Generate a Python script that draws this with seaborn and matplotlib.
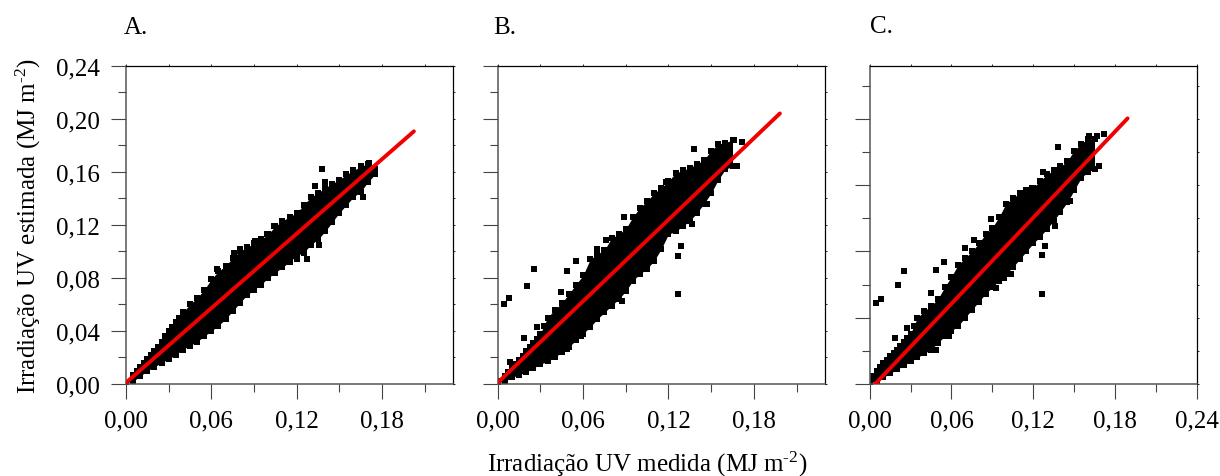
import numpy as np
import pandas as pd
import matplotlib
matplotlib.use('Agg')
import matplotlib.pyplot as plt
import seaborn as sns

sns.set_style('ticks')
plt.rcParams['font.family'] = ['Liberation Serif', 'DejaVu Serif']
plt.rcParams['mathtext.fontset'] = 'custom'
plt.rcParams['mathtext.rm'] = 'Liberation Serif'
plt.rcParams['mathtext.default'] = 'regular'
plt.rcParams['text.color'] = 'black'

W, H = 1220, 477

# measured value at which the black cloud was read (every panel starts at 0)
x_a = [0, .005, .01, .015, .02, .025, .03, .035, .04, .045, .05, .055, .06, .065, .07, .075, .08, .085,
       .09, .095, .1, .105, .11, .115, .12, .125, .13, .135, .14, .145, .15, .155, .16, .165, .17, .175]
x_bc = x_a[:34]

# panel A, top and bottom of the cloud
up_a = [.001, .007, .013, .019, .025, .032, .040, .047, .054, .060, .065, .071, .079, .085, .089, .095, .100, .103,
        .106, .109, .113, .119, .123, .126, .129, .135, .141, .144, .148, .151, .154, .158, .161, .164, .166, .162]
lo_a = [.001, .002, .006, .010, .013, .016, .019, .022, .026, .029, .032, .036, .040, .044, .049, .055, .061, .067,
        .071, .075, .080, .084, .088, .092, .097, .099, .105, .109, .115, .122, .129, .135, .141, .145, .152, .158]
out_x_a = [.138, .133, .140, .104, .080, .076, .064, .171, .136, .127, .120, .167, .091, .099,
           .0075, .0125, .0175, .0225, .0275, .0325, .0375]
out_y_a = [.162, .1495, .152, .119, .102, .099, .087, .167, .105, .094, .094, .141, .108, .113,
           .010, .016, .022, .028, .036, .043, .050]
line_x_a = [0, .2025]
line_y_a = [.001, .1905]

# panel B
up_b = [.002, .006, .012, .018, .025, .031, .038, .050, .056, .061, .068, .075, .082, .094, .098, .101, .110, .113,
        .117, .126, .133, .138, .144, .148, .153, .159, .161, .163, .166, .169, .176, .181, .182, .184]
lo_b = [.001, .002, .005, .007, .009, .012, .015, .017, .020, .024, .028, .033, .038, .043, .049, .054, .059, .064,
        .070, .078, .083, .087, .093, .102, .113, .115, .119, .123, .129, .136, .144, .154, .162, .164]
out_x_b = [.0047, .0082, .0209, .0256, .0448, .0488, .0547, .070, .0763, .0875, .089, .138, .1267, .1267,
           .1286, .1363, .147, .0185, .0275, .0486, .0587, .172, .166, .1185, .0087, .168,
           .0075, .0125, .0175, .0225, .0275, .0325]
out_y_b = [.0606, .0648, .0739, .0865, .0691, .085, .0927, .102, .1088, .0628, .1257, .177, .0679, .0963,
           .1038, .1204, .136, .0347, .0427, .0264, .0362, .1827, .184, .152, .0163, .164,
           .009, .015, .021, .028, .034, .044]
line_x_b = [0, .1983]
line_y_b = [.001, .204]

# panel C
up_c = [.002, .010, .016, .021, .026, .032, .038, .050, .055, .059, .064, .073, .081, .090, .095, .100, .106, .113,
        .118, .126, .136, .140, .144, .146, .148, .153, .158, .161, .164, .168, .176, .181, .185, .185]
lo_c = [.001, .002, .005, .008, .011, .014, .017, .020, .023, .026, .031, .036, .040, .044, .050, .056, .062, .068,
        .073, .078, .083, .088, .094, .100, .106, .111, .117, .123, .130, .137, .146, .155, .160, .162]
out_x_c = [.0047, .0081, .021, .0252, .0448, .0487, .0546, .0698, .0764, .089, .138, .1266, .1266, .1286, .136,
           .1467, .1717, .1607, .0186, .0277, .0487, .0585, .104, .0987, .0926, .127, .119, .168, .1668,
           .0025, .0075, .0125, .0175, .0225, .0275, .0325]
out_y_c = [.0611, .0638, .0744, .0852, .0689, .086, .0922, .1025, .1086, .1244, .1787, .0681, .0973, .1038, .1194,
           .1377, .1885, .1867, .0349, .0422, .0259, .0362, .083, .0797, .0721, .160, .1475, .1646, .1867,
           .006, .013, .018, .023, .029, .035, .044]
line_x_c = [.004, .1893]
line_y_c = [0, .2003]

y_ticks_ab = [0, .04, .08, .12, .16, .20, .24]
y_minor_ab = [.02, .06, .10, .14, .18, .22]
y_labels = ['0,00', '0,04', '0,08', '0,12', '0,16', '0,20', '0,24']
y_ticks_c = [0, .05, .10, .15, .20]
y_minor_c = [.025, .075, .125, .175, .225]
x_ticks = [0, .06, .12, .18]
x_minor = [.03, .09, .15, .21]
x_labels = ['0,00', '0,06', '0,12', '0,18']
x_ticks_c = [0, .06, .12, .18, .24]
x_labels_c = ['0,00', '0,06', '0,12', '0,18', '0,24']


def panel(rect, xs, up, lo, out_x, out_y, line_x, line_y, xlim, yt, ym, xt, xl, ylab=None):
    left, top, right, bottom = rect
    ax = fig.add_axes([left / W, 1 - bottom / H, (right - left) / W, (bottom - top) / H])

    # solid body of the cloud, then its square points on the edges and the strays
    ax.fill_between(xs, lo, up, color='black', linewidth=0)
    pts = pd.DataFrame({'x': list(xs) * 2 + out_x, 'y': up + lo + out_y})
    sns.scatterplot(data=pts, x='x', y='y', ax=ax, marker='s', s=15, color='black', linewidth=0)
    line = pd.DataFrame({'x': line_x, 'y': line_y})
    sns.lineplot(data=line, x='x', y='y', ax=ax, color='#f00000', linewidth=2.8,
                 solid_capstyle='round', errorbar=None, zorder=5)

    ax.set_xlim(*xlim)
    ax.set_ylim(0, .24)
    ax.set_xlabel('')
    ax.set_ylabel('')
    ax.set_xticks(xt)
    ax.set_xticklabels(xl)
    ax.set_xticks(x_minor, minor=True)
    ax.set_yticks(yt)
    ax.set_yticklabels(ylab if ylab else [''] * len(yt))
    ax.set_yticks(ym, minor=True)
    ax.tick_params(which='major', length=11, width=.8, color='#444444', labelsize=18, labelcolor='black')
    ax.tick_params(which='minor', length=6, width=.8, color='#444444')
    ax.tick_params(axis='x', which='major', pad=7.5)
    ax.tick_params(axis='y', which='major', pad=8)
    for side in ['left', 'bottom']:
        ax.spines[side].set_color('#555555')
        ax.spines[side].set_linewidth(1.1)
    for side in ['top', 'right']:
        ax.spines[side].set_visible(True)
        ax.spines[side].set_color('black')
        ax.spines[side].set_linewidth(.9)

    # very short ticks on the closing sides
    sx = ax.secondary_xaxis('top')
    sx.set_xticks(xt + x_minor)
    sx.tick_params(length=1.5, width=.7, labeltop=False)
    sx.spines['top'].set_visible(False)
    sy = ax.secondary_yaxis('right')
    sy.set_yticks(yt + ym)
    sy.tick_params(length=1.5, width=.7, labelright=False)
    sy.spines['right'].set_visible(False)
    return ax


fig = plt.figure(figsize=(W / 100, H / 100), dpi=100)

panel((126, 66.7, 453, 385), x_a, up_a, lo_a, out_x_a, out_y_a, line_x_a, line_y_a, (0, .23),
      y_ticks_ab, y_minor_ab, x_ticks, x_labels, ylab=y_labels)
panel((497.7, 66.7, 825, 385), x_bc, up_b, lo_b, out_x_b, out_y_b, line_x_b, line_y_b, (0, .23),
      y_ticks_ab, y_minor_ab, x_ticks, x_labels)
panel((869.7, 66.7, 1196.7, 385), x_bc, up_c, lo_c, out_x_c, out_y_c, line_x_c, line_y_c, (0, .24),
      y_ticks_c, y_minor_c, x_ticks_c, x_labels_c)

fig.text(124 / W, 1 - 34 / H, 'A.', fontsize=18, va='baseline')
fig.text(493 / W, 1 - 34 / H, 'B.', fontsize=18, va='baseline')
fig.text(870 / W, 1 - 33 / H, 'C.', fontsize=18, va='baseline')
fig.text(647 / W, 1 - 472 / H, r'Irradiação UV medida (MJ m$^{\text{-}2}$)', fontsize=18, ha='center', va='baseline')
fig.text(28 / W, 1 - 226 / H, r'Irradiação UV estimada (MJ m$^{\text{-}2}$)', fontsize=18, rotation=90,
         ha='center', va='center')

plt.savefig('out.png', dpi=100)
plt.close('all')
